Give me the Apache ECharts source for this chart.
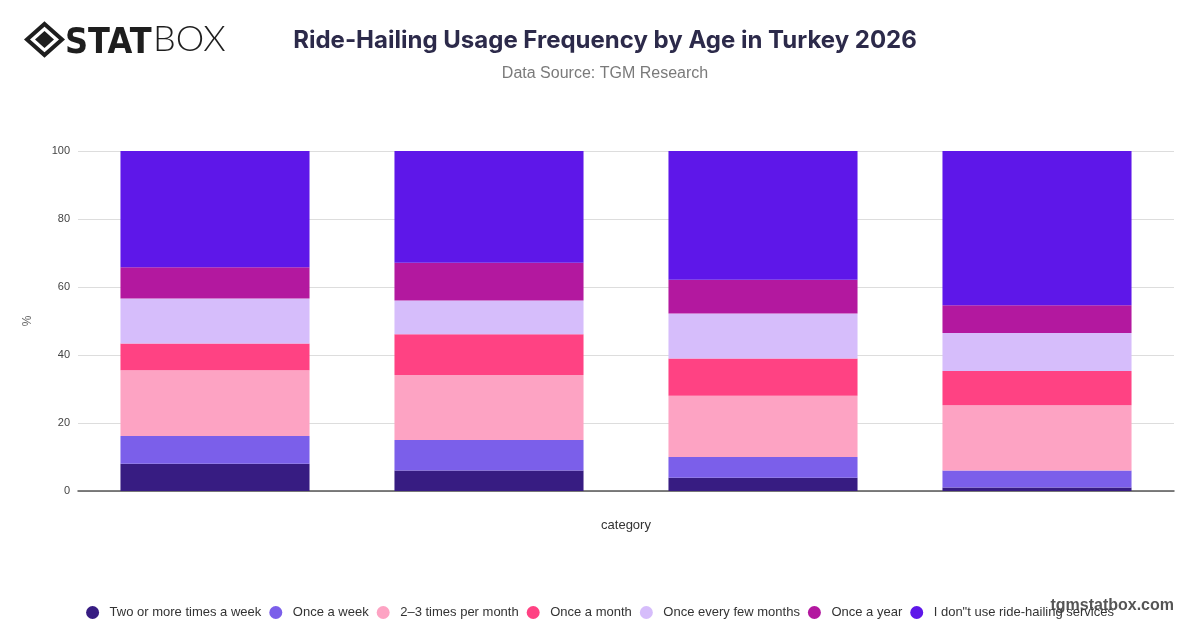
<!DOCTYPE html>
<html>
<head>
<meta charset="utf-8">
<script src="https://cdn.jsdelivr.net/npm/echarts@6/dist/echarts.min.js"></script>
<style>
html,body{margin:0;padding:0;background:#fff;}
#chart{width:1200px;height:628px;}
</style>
</head>
<body>
<div id="chart"></div>
<script>
const categories = ['18–24', '25–34', '35–44', '45+'];
const seriesNames = ['Two or more times a week', 'Once a week', '2–3 times per month', 'Once a month', 'Once every few months', 'Once a year', 'I don"t use ride-hailing services'];
const twoOrMore = [8.0, 6.0, 3.9, 1.0];
const onceWeek = [8.2, 9.0, 6.1, 5.0];
const twoThreeMonth = [19.3, 19.1, 18.0, 19.2];
const onceMonth = [7.9, 12.0, 11.0, 10.1];
const fewMonths = [13.2, 9.9, 13.2, 11.2];
const onceYear = [9.2, 11.1, 9.9, 8.1];
const dontUse = [34.2, 32.9, 37.9, 45.4];
const yTicks = [0, 20, 40, 60, 80, 100];

const colors = ['#371c82', '#7b5fea', '#fda3c3', '#ff4283', '#d6bdfb', '#b3189f', '#5e17e9'];
const values = [twoOrMore, onceWeek, twoThreeMonth, onceMonth, fewMonths, onceYear, dontUse];
const SANS = '"Liberation Sans", Arial, sans-serif';

const chart = echarts.init(document.getElementById('chart'));
chart.setOption({
  backgroundColor: '#ffffff',
  color: colors,
  title: [{
    text: 'Ride-Hailing Usage Frequency by Age in Turkey 2026',
    left: 600, top: 24, textAlign: 'center',
    textStyle: {fontFamily: 'Inter', fontSize: 24, fontWeight: 'bold', color: '#2c2a4a'}
  }, {
    text: 'Data Source: TGM Research',
    left: 600, top: 61, textAlign: 'center',
    textStyle: {fontFamily: SANS, fontSize: 16, fontWeight: 'normal', color: '#7a7a7a'}
  }],
  graphic: [
    {type: 'polygon', shape: {points: [[44.5, 24], [62, 39.5], [44.5, 55], [27, 39.5]]}, style: {fill: 'none', stroke: '#1e1e1e', lineWidth: 4}},
    {type: 'polygon', shape: {points: [[44.5, 31], [54, 39.5], [44.5, 48], [35, 39.5]]}, style: {fill: '#1e1e1e'}},
    {type: 'text', x: 65, y: 26, scaleX: 1.07, scaleY: 1.2, style: {text: 'STAT', fontFamily: 'DejaVu Sans', fontWeight: 'bold', fontSize: 30, fill: '#1e1e1e', textVerticalAlign: 'top'}},
    {type: 'text', x: 153, y: 21, style: {text: 'BOX', fontFamily: 'Lato', fontWeight: 300, fontSize: 36, fill: '#1e1e1e', textVerticalAlign: 'top'}},
    {type: 'text', right: 26, top: 598, style: {text: 'tgmstatbox.com', fontFamily: SANS, fontWeight: 'bold', fontSize: 16, fill: '#555555'}}
  ],
  legend: {
    data: seriesNames,
    left: 'center', top: 601,
    icon: 'circle', itemWidth: 24, itemHeight: 13, itemGap: 8,
    textStyle: {fontFamily: SANS, fontSize: 13, color: '#333333'}
  },
  grid: {left: 78, right: 26, top: 151, bottom: 137},
  xAxis: {
    type: 'category', data: categories,
    name: 'category', nameLocation: 'middle', nameGap: 28,
    nameTextStyle: {fontFamily: SANS, fontSize: 13, color: '#333333'},
    axisLine: {lineStyle: {color: '#555555', width: 1.5}},
    axisTick: {show: false},
    axisLabel: {show: false}
  },
  yAxis: {
    type: 'value', min: 0, max: 100, interval: 20,
    name: '%', nameLocation: 'middle', nameGap: 44,
    nameTextStyle: {fontFamily: SANS, fontSize: 12, color: '#666666'},
    axisLabel: {fontFamily: SANS, fontSize: 11, color: '#444444',
      formatter: v => yTicks.includes(v) ? String(v) : ''},
    splitLine: {lineStyle: {color: '#dddddd'}},
    axisLine: {show: false}, axisTick: {show: false}
  },
  series: seriesNames.map((n, i) => ({
    name: n, type: 'bar', stack: 'total', data: values[i],
    barCategoryGap: '31%',
    itemStyle: {color: colors[i]}
  }))
});
</script>
</body>
</html>
